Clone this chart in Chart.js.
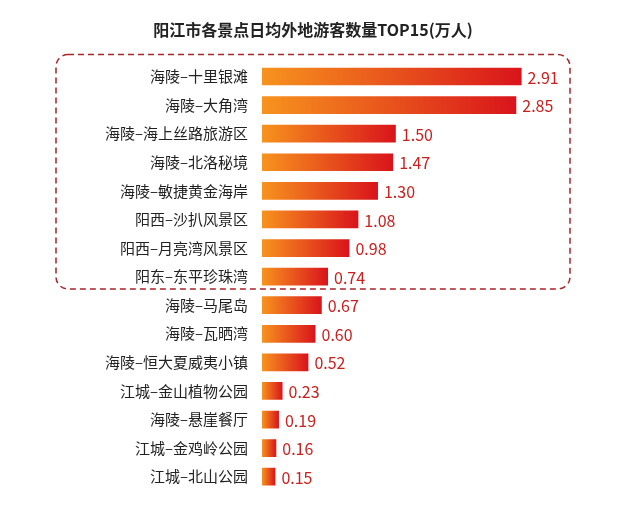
<!DOCTYPE html>
<html>
<head>
<meta charset="utf-8">
<script src="https://cdn.jsdelivr.net/npm/chart.js@4"></script>
<style>
body{margin:0;background:#fff;}
#wrap{width:626px;height:506px;}
</style>
</head>
<body>
<div id="wrap"><canvas id="c"></canvas></div>
<script>
let spots=['海陵–十里银滩','海陵–大角湾','海陵–海上丝路旅游区','海陵–北洛秘境','海陵–敏捷黄金海岸','阳西–沙扒风景区','阳西–月亮湾风景区','阳东–东平珍珠湾','海陵–马尾岛','海陵–瓦晒湾','海陵–恒大夏威夷小镇','江城–金山植物公园','海陵–悬崖餐厅','江城–金鸡岭公园','江城–北山公园'];
let visitors=[2.91,2.85,1.50,1.47,1.30,1.08,0.98,0.74,0.67,0.60,0.52,0.23,0.19,0.16,0.15];
let boxedCount=8;

function barGradient(ctx) {
    let chart=ctx.chart;
    let area=chart.chartArea;
    if (!area) return '#e8401c';
    let xs=chart.scales.x;
    let end=xs.getPixelForValue(visitors[ctx.dataIndex]);
    let g=chart.ctx.createLinearGradient(area.left,0,end,0);
    g.addColorStop(0,'#f7931e');
    g.addColorStop(1,'#d9141b');
    return g;
}

// value labels + dashed box around top group
var extras={
    id:'extras',
    afterDatasetsDraw:function(chart){
        let c=chart.ctx;
        let meta=chart.getDatasetMeta(0);
        c.save();
        c.font='16px "Noto Sans CJK SC", sans-serif';
        c.fillStyle='#c8201e';
        c.textBaseline='middle';
        meta.data.forEach(function(bar,i){
            c.fillText(visitors[i].toFixed(2),bar.x+6,bar.y+1);
        });
        let ys=chart.scales.y;
        let top=ys.getPixelForValue(0)-22;
        let bottom=(ys.getPixelForValue(boxedCount-1)+ys.getPixelForValue(boxedCount))/2-2;
        c.strokeStyle='#a8252a';
        c.lineWidth=1.5;
        c.setLineDash([6,4]);
        c.beginPath();
        c.roundRect(56,top,514,bottom-top,12);
        c.stroke();
        c.restore();
    }
};

new Chart(document.getElementById('c'),{
    type:'bar',
    data:{
        labels:spots,
        datasets:[{
            data:visitors,
            backgroundColor:barGradient,
            barPercentage:0.62,
            categoryPercentage:1
        }]
    },
    options:{
        indexAxis:'y',
        responsive:true,
        maintainAspectRatio:false,
        animation:false,
        layout:{padding:{left:0,right:0,bottom:5}},
        plugins:{
            legend:{display:false},
            tooltip:{enabled:false},
            title:{
                display:true,
                text:'阳江市各景点日均外地游客数量TOP15(万人)',
                color:'#222',
                font:{size:16,weight:'bold',family:'"Noto Sans CJK SC", sans-serif'},
                padding:{top:20,bottom:23}
            }
        },
        scales:{
            x:{display:false,min:0,max:4.08},
            y:{
                grid:{display:false},
                border:{display:false},
                afterFit:function(s){s.width=262;},
                ticks:{
                    color:'#222',
                    padding:6,
                    font:{size:15,family:'"Noto Sans CJK SC", sans-serif'}
                }
            }
        }
    },
    plugins:[extras]
});
</script>
</body>
</html>
